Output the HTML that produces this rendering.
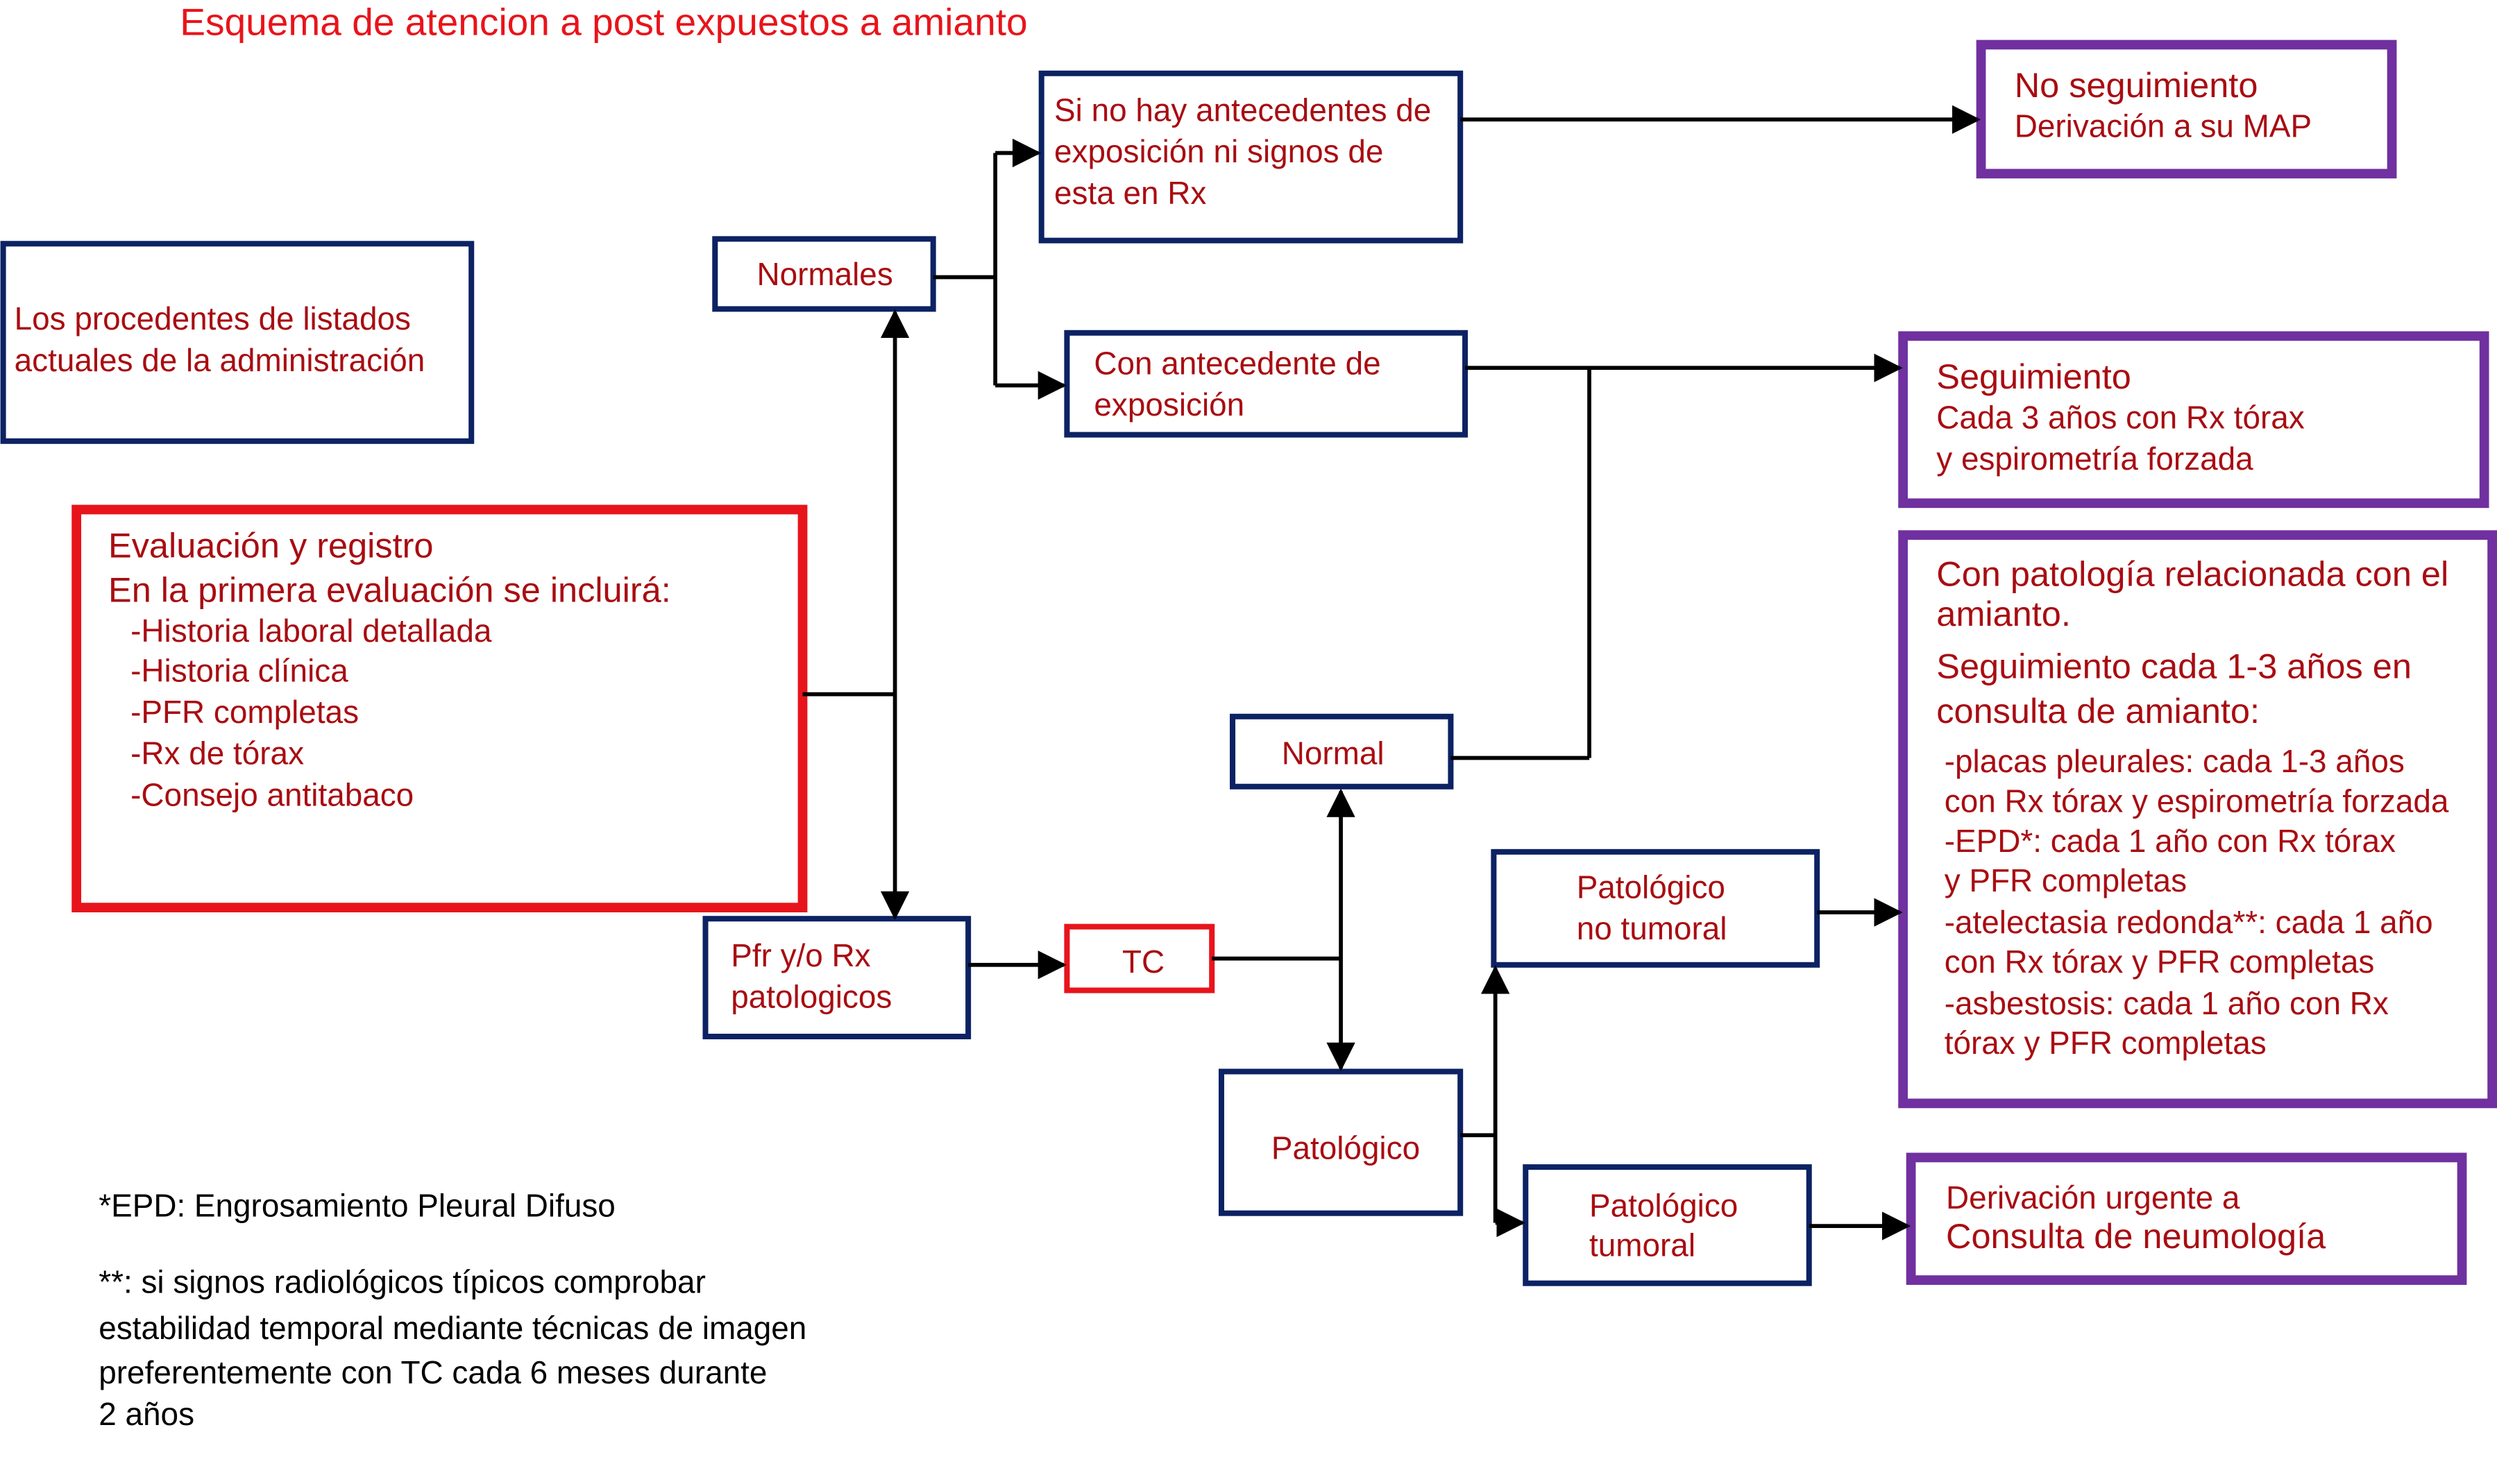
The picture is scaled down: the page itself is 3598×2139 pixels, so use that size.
<!DOCTYPE html>
<html><head><meta charset="utf-8"><style>
html,body{margin:0;padding:0;background:#fff;}
svg{display:block;}
text{font-family:"Liberation Sans",Arial,sans-serif;}
.t{fill:#a80d12;font-size:20px;}
.b{fill:none;stroke:#0c2263;stroke-width:3.5;}
.p{fill:none;stroke:#7030a0;stroke-width:6;}
.l{stroke:#000;stroke-width:2.5;fill:none;}
</style></head><body>
<svg width="3598" height="2139" viewBox="0 0 1568 932" xmlns="http://www.w3.org/2000/svg">
<defs>
<marker id="a" viewBox="0 0 10 10" refX="10" refY="5" markerWidth="7" markerHeight="7" markerUnits="userSpaceOnUse" orient="auto">
</marker>
<marker id="ar" viewBox="0 0 10 10" refX="9" refY="5" markerWidth="18" markerHeight="18" markerUnits="userSpaceOnUse" orient="auto-start-reverse"><path d="M0,0 L10,5 L0,10 z" fill="#000"/></marker>
</defs>
<rect width="1568" height="932" fill="#fff"/>
<text x="113" y="22" style="fill:#e8141b;font-size:24px">Esquema de atencion a post expuestos a amianto</text>

<!-- boxes -->
<rect class="b" x="2" y="153" width="294" height="124"/>
<text class="t" x="9" y="207">Los procedentes de listados</text>
<text class="t" x="9" y="233">actuales de la administración</text>

<rect x="48" y="320" width="456" height="250" fill="none" stroke="#e8141b" stroke-width="6"/>
<text class="t" x="68" y="350" style="font-size:22px">Evaluación y registro</text>
<text class="t" x="68" y="378" style="font-size:22px">En la primera evaluación se incluirá:</text>
<text class="t" x="82" y="403">-Historia laboral detallada</text>
<text class="t" x="82" y="428">-Historia clínica</text>
<text class="t" x="82" y="454">-PFR completas</text>
<text class="t" x="82" y="480">-Rx de tórax</text>
<text class="t" x="82" y="506">-Consejo antitabaco</text>

<rect class="b" x="449" y="150" width="137" height="44"/>
<text class="t" x="518" y="179" text-anchor="middle">Normales</text>

<rect class="b" x="654" y="46" width="263" height="105"/>
<text class="t" x="662" y="76">Si no hay antecedentes de</text>
<text class="t" x="662" y="102">exposición ni signos de</text>
<text class="t" x="662" y="128">esta en Rx</text>

<rect class="b" x="670" y="209" width="250" height="64"/>
<text class="t" x="687" y="235">Con antecedente de</text>
<text class="t" x="687" y="261">exposición</text>

<rect class="p" x="1244" y="28" width="258" height="81"/>
<text class="t" x="1265" y="61" style="font-size:22px">No seguimiento</text>
<text class="t" x="1265" y="86">Derivación a su MAP</text>

<rect class="p" x="1195" y="211" width="365" height="105"/>
<text class="t" x="1216" y="244" style="font-size:22px">Seguimiento</text>
<text class="t" x="1216" y="269">Cada 3 años con Rx tórax</text>
<text class="t" x="1216" y="295">y espirometría forzada</text>

<rect class="p" x="1195" y="336" width="370" height="357"/>
<text class="t" x="1216" y="368" style="font-size:22px">Con patología relacionada con el</text>
<text class="t" x="1216" y="393" style="font-size:22px">amianto.</text>
<text class="t" x="1216" y="426" style="font-size:22px">Seguimiento cada  1-3 años en</text>
<text class="t" x="1216" y="454" style="font-size:22px">consulta de amianto:</text>
<text class="t" x="1221" y="485">-placas pleurales: cada 1-3 años</text>
<text class="t" x="1221" y="510">con Rx tórax y espirometría forzada</text>
<text class="t" x="1221" y="535">-EPD*: cada 1 año con Rx tórax</text>
<text class="t" x="1221" y="560">y PFR completas</text>
<text class="t" x="1221" y="586">-atelectasia redonda**: cada 1 año</text>
<text class="t" x="1221" y="611">con Rx tórax y PFR completas</text>
<text class="t" x="1221" y="637">-asbestosis: cada 1 año con Rx</text>
<text class="t" x="1221" y="662">tórax y PFR completas</text>

<rect class="b" x="774" y="450" width="137" height="44"/>
<text class="t" x="837" y="480" text-anchor="middle">Normal</text>

<rect class="b" x="443" y="577" width="165" height="74"/>
<text class="t" x="459" y="607">Pfr  y/o Rx</text>
<text class="t" x="459" y="633">patologicos</text>

<rect x="670" y="582" width="91" height="40" fill="none" stroke="#e8141b" stroke-width="3.5"/>
<text class="t" x="718" y="611" text-anchor="middle">TC</text>

<rect class="b" x="767" y="673" width="150" height="89"/>
<text class="t" x="845" y="728" text-anchor="middle">Patológico</text>

<rect class="b" x="938" y="535" width="203" height="71"/>
<text class="t" x="990" y="564">Patológico</text>
<text class="t" x="990" y="590">no tumoral</text>

<rect class="b" x="958" y="733" width="178" height="73"/>
<text class="t" x="998" y="764">Patológico</text>
<text class="t" x="998" y="789">tumoral</text>

<rect class="p" x="1200" y="727" width="346" height="77"/>
<text class="t" x="1222" y="759">Derivación urgente a</text>
<text class="t" x="1222" y="784" style="font-size:22px">Consulta de neumología</text>

<text x="62" y="764" style="font-size:20px;fill:#000">*EPD: Engrosamiento Pleural Difuso</text>
<text x="62" y="812" style="font-size:20px;fill:#000">**:  si signos radiológicos típicos comprobar</text>
<text x="62" y="841" style="font-size:20px;fill:#000">estabilidad temporal mediante técnicas de imagen</text>
<text x="62" y="869" style="font-size:20px;fill:#000">preferentemente con TC cada 6 meses durante</text>
<text x="62" y="895" style="font-size:20px;fill:#000">2 años</text>

<!-- connectors -->
<line class="l" x1="504" y1="436" x2="562" y2="436"/>
<line class="l" x1="562" y1="196" x2="562" y2="576" marker-start="url(#ar)" marker-end="url(#ar)"/>
<line class="l" x1="586" y1="174" x2="625" y2="174"/>
<line class="l" x1="625" y1="96" x2="625" y2="242"/>
<line class="l" x1="625" y1="96" x2="652" y2="96" marker-end="url(#ar)"/>
<line class="l" x1="625" y1="242" x2="668" y2="242" marker-end="url(#ar)"/>
<line class="l" x1="917" y1="75" x2="1242" y2="75" marker-end="url(#ar)"/>
<line class="l" x1="920" y1="231" x2="1193" y2="231" marker-end="url(#ar)"/>
<line class="l" x1="998" y1="231" x2="998" y2="476"/>
<line class="l" x1="911" y1="476" x2="998" y2="476"/>
<line class="l" x1="608" y1="606" x2="668" y2="606" marker-end="url(#ar)"/>
<line class="l" x1="761" y1="602" x2="842" y2="602"/>
<line class="l" x1="842" y1="497" x2="842" y2="671" marker-start="url(#ar)" marker-end="url(#ar)"/>
<line class="l" x1="917" y1="713" x2="939" y2="713"/>
<line class="l" x1="939" y1="768" x2="939" y2="608" marker-end="url(#ar)"/>
<line class="l" x1="939" y1="768" x2="956" y2="768" marker-end="url(#ar)"/>
<line class="l" x1="1141" y1="573" x2="1193" y2="573" marker-end="url(#ar)"/>
<line class="l" x1="1136" y1="770" x2="1198" y2="770" marker-end="url(#ar)"/>
</svg>
</body></html>
